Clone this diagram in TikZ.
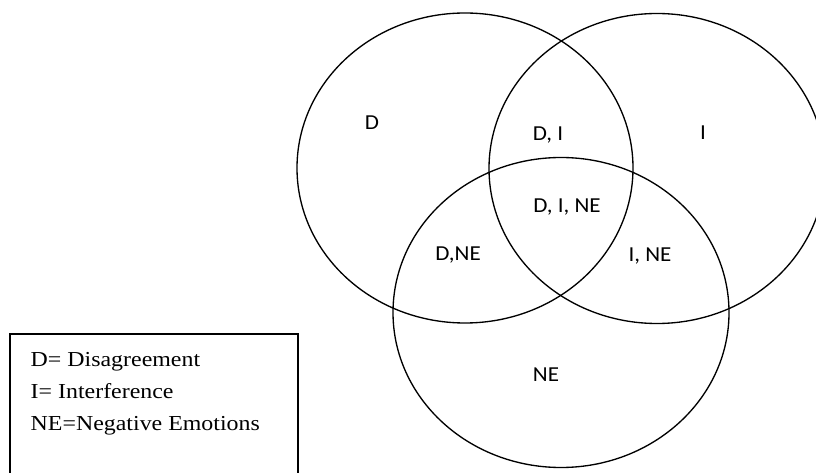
\documentclass[tikz,border=0pt]{standalone}
\usepackage{fontspec}
\newfontfamily\labelfont{Carlito}
\newfontfamily\legendfont{Liberation Serif}

\begin{document}
\begin{tikzpicture}[x=0.75pt, y=-0.75pt, line width=1pt,
    lbl/.style={anchor=base, inner sep=0, xscale=1.08, font=\labelfont\fontsize{16}{19}\selectfont},
    leg/.style={anchor=base west, inner sep=0, xscale=1.12, font=\legendfont\fontsize{16}{19}\selectfont}]
    % 세 집합의 벤 다이어그램
    \def\rx{126pt}
    \def\ry{116.25pt}
    \useasboundingbox (0,0) rectangle (816,473);
    \clip (0,0) rectangle (816,473);

    \coordinate (cD) at (465, 168);
    \coordinate (cI) at (657, 168.5);
    \coordinate (cNE) at (561, 312.5);

    \draw[] (cD) ellipse [x radius=\rx, y radius=\ry];
    \draw[] (cI) ellipse [x radius=\rx, y radius=\ry];
    \draw[] (cNE) ellipse [x radius=\rx, y radius=\ry];

    \node[lbl] (D) at (372, 130) {D};
    \node[lbl] (DI) at (548, 141) {D, I};
    \node[lbl] (I) at (703, 140) {I};
    \node[lbl] (DINE) at (567, 213) {D, I, NE};
    \node[lbl] (DNE) at (458, 261) {D,NE};
    \node[lbl] (INE) at (650, 262) {I, NE};
    \node[lbl] (NE) at (546, 381) {NE};

    % 범례
    \draw[] (10, 473) -- (10, 334) -- (298, 334) -- (298, 473);
    \node[leg] (legD) at (30, 367) {D= Disagreement};
    \node[leg] (legI) at (30, 398) {I= Interference};
    \node[leg] (legNE) at (30, 430) {NE=Negative Emotions};
\end{tikzpicture}
\end{document}
